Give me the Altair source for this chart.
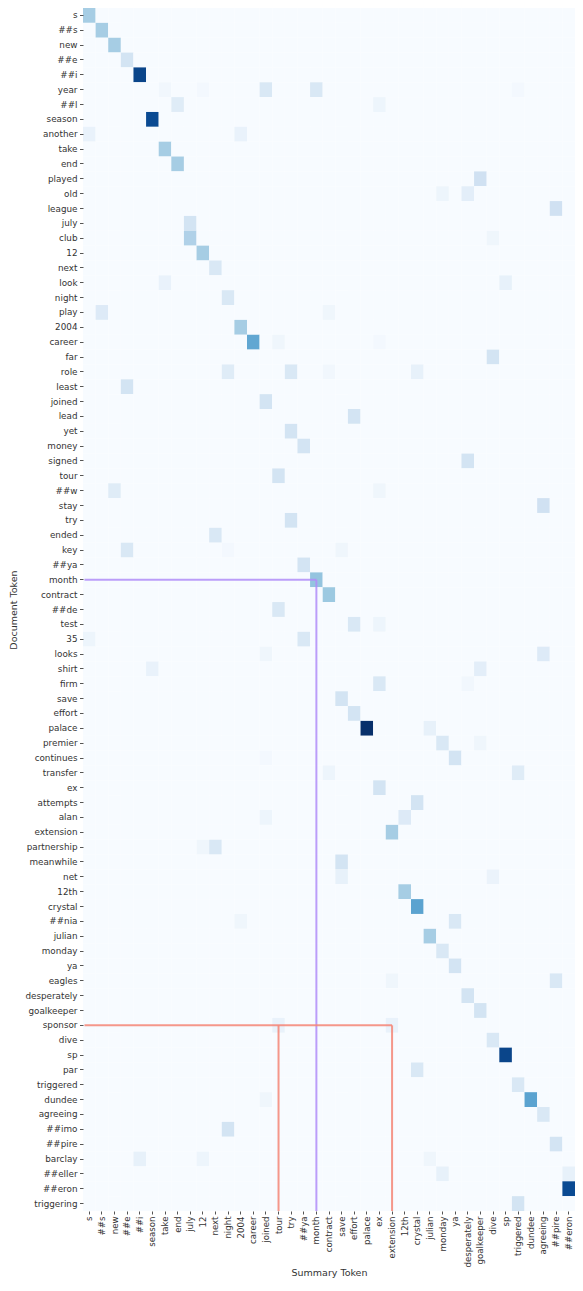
import altair as alt
import pandas as pd

doc_tokens = ["s", "##s", "new", "##e", "##i", "year", "##l", "season", "another", "take",
              "end", "played", "old", "league", "july", "club", "12", "next", "look", "night",
              "play", "2004", "career", "far", "role", "least", "joined", "lead", "yet", "money",
              "signed", "tour", "##w", "stay", "try", "ended", "key", "##ya", "month", "contract",
              "##de", "test", "35", "looks", "shirt", "firm", "save", "effort", "palace", "premier",
              "continues", "transfer", "ex", "attempts", "alan", "extension", "partnership", "meanwhile", "net", "12th",
              "crystal", "##nia", "julian", "monday", "ya", "eagles", "desperately", "goalkeeper", "sponsor", "dive",
              "sp", "par", "triggered", "dundee", "agreeing", "##imo", "##pire", "barclay", "##eller", "##eron",
              "triggering"]

summary_tokens = ["s", "##s", "new", "##e", "##i", "season", "take", "end", "july", "12",
                  "next", "night", "2004", "career", "joined", "tour", "try", "##ya", "month", "contract",
                  "save", "effort", "palace", "ex", "extension", "12th", "crystal", "julian", "monday", "ya",
                  "desperately", "goalkeeper", "dive", "sp", "triggered", "dundee", "agreeing", "##pire", "##eron"]

# non-zero attention cells (all other cells are 0)
cell_doc = ["s", "##s", "new", "##e", "##i", "year", "year", "year", "year", "year",
            "##l", "##l", "season", "another", "another", "take", "end", "played", "old", "old",
            "league", "july", "club", "club", "12", "next", "look", "look", "night", "play",
            "play", "2004", "career", "career", "career", "far", "role", "role", "role", "role",
            "least", "joined", "lead", "yet", "money", "signed", "tour", "##w", "##w", "stay",
            "try", "ended", "key", "key", "key", "##ya", "month", "contract", "##de", "test",
            "test", "35", "35", "looks", "looks", "shirt", "shirt", "firm", "firm", "save",
            "effort", "palace", "palace", "premier", "premier", "continues", "continues", "transfer", "transfer", "ex",
            "attempts", "alan", "alan", "extension", "partnership", "partnership", "meanwhile", "net", "net", "12th",
            "crystal", "##nia", "##nia", "julian", "monday", "ya", "eagles", "eagles", "desperately", "goalkeeper",
            "sponsor", "sponsor", "dive", "sp", "par", "triggered", "dundee", "dundee", "agreeing", "##imo",
            "##pire", "barclay", "barclay", "barclay", "##eller", "##eller", "##eron", "triggering"]
cell_summary = ["s", "##s", "new", "##e", "##i", "take", "12", "joined", "month", "triggered",
                "end", "ex", "season", "s", "2004", "take", "end", "goalkeeper", "monday", "desperately",
                "##pire", "july", "july", "dive", "12", "next", "take", "sp", "night", "##s",
                "contract", "2004", "career", "tour", "ex", "dive", "night", "try", "contract", "crystal",
                "##e", "joined", "effort", "try", "##ya", "desperately", "tour", "new", "ex", "agreeing",
                "try", "next", "##e", "night", "save", "##ya", "month", "contract", "tour", "effort",
                "ex", "s", "##ya", "joined", "agreeing", "season", "goalkeeper", "ex", "desperately", "save",
                "effort", "palace", "julian", "monday", "goalkeeper", "joined", "ya", "contract", "triggered", "ex",
                "crystal", "joined", "12th", "extension", "12", "next", "save", "save", "dive", "12th",
                "crystal", "2004", "ya", "julian", "monday", "ya", "extension", "##pire", "desperately", "goalkeeper",
                "tour", "extension", "dive", "sp", "crystal", "triggered", "joined", "dundee", "agreeing", "night",
                "##pire", "##i", "12", "julian", "monday", "##eron", "##eron", "triggered"]
cell_value = [0.35, 0.35, 0.35, 0.18, 0.92, 0.03, 0.02, 0.15, 0.15, 0.02,
              0.12, 0.05, 0.90, 0.07, 0.07, 0.35, 0.35, 0.20, 0.05, 0.10,
              0.20, 0.18, 0.32, 0.04, 0.35, 0.15, 0.07, 0.08, 0.15, 0.13,
              0.04, 0.35, 0.53, 0.04, 0.02, 0.18, 0.12, 0.15, 0.03, 0.08,
              0.18, 0.18, 0.18, 0.18, 0.18, 0.18, 0.18, 0.12, 0.04, 0.20,
              0.18, 0.15, 0.15, 0.02, 0.04, 0.18, 0.40, 0.38, 0.15, 0.15,
              0.05, 0.05, 0.15, 0.04, 0.13, 0.07, 0.10, 0.15, 0.03, 0.18,
              0.18, 1.00, 0.08, 0.15, 0.04, 0.02, 0.18, 0.05, 0.12, 0.18,
              0.18, 0.05, 0.13, 0.35, 0.04, 0.15, 0.18, 0.08, 0.06, 0.35,
              0.55, 0.04, 0.15, 0.35, 0.15, 0.18, 0.04, 0.15, 0.18, 0.18,
              0.07, 0.07, 0.15, 0.92, 0.15, 0.15, 0.04, 0.55, 0.15, 0.18,
              0.18, 0.08, 0.05, 0.04, 0.08, 0.08, 0.90, 0.18]

# highlighted alignments
purple_doc = ["month"]
purple_summary = ["month"]
red_doc = ["sponsor", "sponsor"]
red_summary = ["tour", "extension"]
red_horizontal_summary = ["extension"]

blues = ["#f7fbff", "#deebf7", "#c6dbef", "#9ecae1", "#6baed6",
         "#4292c6", "#2171b5", "#08519c", "#08306b"]
blues_domain = [i / 8 for i in range(9)]

lookup = {(d, s): v for d, s, v in zip(cell_doc, cell_summary, cell_value)}
rows = []
for d in doc_tokens:
    for s in summary_tokens:
        rows.append({"doc": d, "summary": s, "value": lookup.get((d, s), 0.0)})
grid = pd.DataFrame(rows)

W = 492
H = 1203

xenc = alt.X("summary:N", sort=summary_tokens, title="Summary Token",
             scale=alt.Scale(domain=summary_tokens, paddingInner=0, paddingOuter=0),
             axis=alt.Axis(labelAngle=-90, domain=False, tickSize=3, labelPadding=2,
                           tickColor="#555", labelColor="#333", labelFontSize=8.6,
                           labelFont="DejaVu Sans", titleFont="DejaVu Sans", titleFontSize=9.5,
                           titleFontWeight="normal", titleColor="#333", titlePadding=1))
yenc = alt.Y("doc:N", sort=doc_tokens, title="Document Token",
             scale=alt.Scale(domain=doc_tokens, paddingInner=0, paddingOuter=0),
             axis=alt.Axis(domain=False, tickSize=3.5, labelPadding=2.5,
                           tickColor="#555", labelColor="#333", labelFontSize=8.8,
                           labelFont="DejaVu Sans", titleFont="DejaVu Sans", titleFontSize=9.5,
                           titleFontWeight="normal", titleColor="#333", titlePadding=6))

heat = alt.Chart(grid).mark_rect(strokeWidth=0).encode(
    x=xenc,
    y=yenc,
    color=alt.Color("value:Q", legend=None,
                    scale=alt.Scale(domain=blues_domain, range=blues, type="linear")),
)

purple_df = pd.DataFrame({"doc": purple_doc, "summary": purple_summary})
red_df = pd.DataFrame({"doc": red_doc, "summary": red_summary})
red_h_df = pd.DataFrame({"doc": red_doc[:1], "summary": red_horizontal_summary})

def hrule(df, color):
    return alt.Chart(df).mark_rule(color=color, strokeWidth=2, opacity=0.85).encode(
        x=alt.X("summary:N", sort=summary_tokens), x2=alt.value(1.5),
        y=alt.Y("doc:N", sort=doc_tokens))

def vrule(df, color):
    return alt.Chart(df).mark_rule(color=color, strokeWidth=2, opacity=0.85).encode(
        x=alt.X("summary:N", sort=summary_tokens),
        y=alt.Y("doc:N", sort=doc_tokens), y2=alt.value(H))

purple = "#b08cf8"
red = "#f58575"

chart = alt.layer(
    heat,
    hrule(purple_df, purple), vrule(purple_df, purple),
    hrule(red_h_df, red), vrule(red_df, red),
).properties(
    width=W, height=H,
    padding={"left": 0, "top": 0, "right": 0, "bottom": 0},
).configure_view(stroke=None)

chart.save("out.html", embed_options={"renderer": "svg", "actions": False})
